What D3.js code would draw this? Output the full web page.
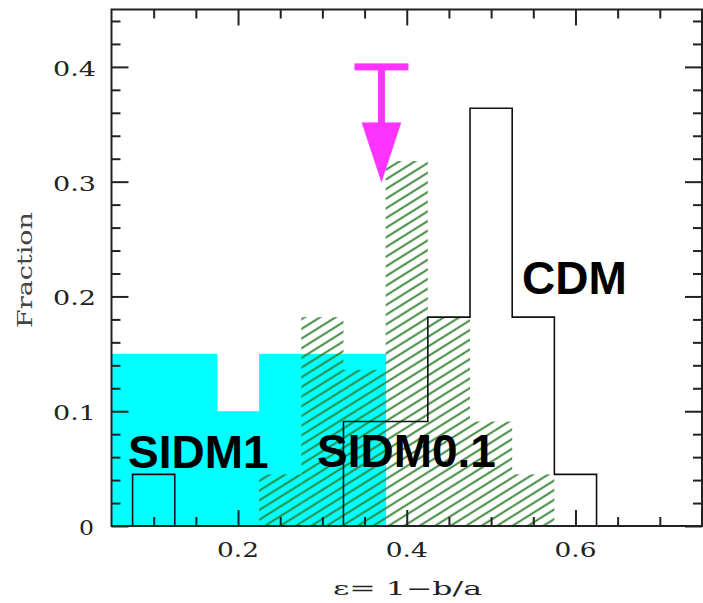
<!DOCTYPE html>
<html>
<head>
<meta charset="utf-8">
<script src="https://cdn.jsdelivr.net/npm/d3@7"></script>
<style>
  body { margin: 0; background: #fff; }
  svg { display: block; }
</style>
</head>
<body>
<svg id="chart" width="703" height="603"></svg>
<script>
// histogram bins (lower edges, width 0.05)
var binLo = [0.025, 0.075, 0.125, 0.175, 0.225, 0.275, 0.325, 0.375, 0.425, 0.475, 0.525, 0.575, 0.625, 0.675, 0.725],
    binWidth = 0.05;

var sidm1  = [0.15, 0.15, 0.15, 0.10, 0.15, 0.15, 0.15, 0, 0, 0, 0, 0, 0, 0, 0],
    sidm01 = [0, 0, 0, 0, 0.045, 0.182, 0.136, 0.318, 0.182, 0.091, 0.045, 0, 0, 0, 0],
    cdm    = [0, 0.045, 0, 0, 0, 0, 0.091, 0.091, 0.182, 0.364, 0.182, 0.045, 0, 0, 0];

var xMajor = [0.2, 0.4, 0.6],
    xMajorLabels = ['0.2', '0.4', '0.6'],
    xMinor = [0.1, 0.15, 0.25, 0.3, 0.35, 0.45, 0.5, 0.55, 0.65, 0.7],
    yMajor = [0, 0.1, 0.2, 0.3, 0.4],
    yMajorLabels = ['0', '0.1', '0.2', '0.3', '0.4'],
    yMinor = [0.02, 0.04, 0.06, 0.08, 0.12, 0.14, 0.16, 0.18, 0.22, 0.24, 0.26, 0.28, 0.32, 0.34, 0.36, 0.38, 0.42, 0.44];

// upper limit arrow
var arrowX = 0.37, arrowFrom = 0.4, arrowTo = 0.3;

var svg = d3.select('#chart'),
    L = 111.5, R = 702, T = 9.5, B = 526;

var x = d3.scaleLinear().domain([0.05, 0.75]).range([L, R]),
    y = d3.scaleLinear().domain([0, 0.45]).range([B, T]);

var defs = svg.append('defs');
defs.append('clipPath').attr('id', 'plotclip')
    .append('rect').attr('x', L).attr('y', T).attr('width', R - L).attr('height', B - T);

var pat = defs.append('pattern')
    .attr('id', 'hatch')
    .attr('patternUnits', 'userSpaceOnUse')
    .attr('width', 200).attr('height', 8.2)
    .attr('patternTransform', 'rotate(-32)');
pat.append('line')
    .attr('x1', 0).attr('x2', 200).attr('y1', 4.1).attr('y2', 4.1)
    .attr('stroke', '#2f7f2f').attr('stroke-width', 1.8);

var bins = binLo.map(function (lo, i) {
    return { lo: lo, hi: lo + binWidth, s1: sidm1[i], s01: sidm01[i], cdm: cdm[i] };
});

var plot = svg.append('g').attr('clip-path', 'url(#plotclip)');

// SIDM1 - solid cyan
plot.selectAll('rect.sidm1')
    .data(bins.filter(function (d) { return d.s1 > 0; }))
    .enter().append('rect')
    .attr('class', 'sidm1')
    .attr('x', function (d) { return x(d.lo); })
    .attr('width', function (d) { return x(d.hi) - x(d.lo) + 0.5; })
    .attr('y', function (d) { return y(d.s1); })
    .attr('height', function (d) { return B - y(d.s1); })
    .attr('fill', '#00ffff');

// SIDM0.1 - green hatching
plot.selectAll('rect.sidm01')
    .data(bins.filter(function (d) { return d.s01 > 0; }))
    .enter().append('rect')
    .attr('class', 'sidm01')
    .attr('x', function (d) { return x(d.lo); })
    .attr('width', function (d) { return x(d.hi) - x(d.lo); })
    .attr('y', function (d) { return y(d.s01); })
    .attr('height', function (d) { return B - y(d.s01); })
    .attr('fill', 'url(#hatch)');

// CDM - black step outline
var pts = [];
bins.forEach(function (d) {
    pts.push([d.lo, d.cdm]);
    pts.push([d.hi, d.cdm]);
});
plot.append('path')
    .datum(pts)
    .attr('d', d3.line().x(function (p) { return x(p[0]); }).y(function (p) { return y(p[1]); }))
    .attr('fill', 'none')
    .attr('stroke', '#111')
    .attr('stroke-width', 1.6);

// arrow (upper limit)
var ax = x(arrowX), ay0 = y(arrowFrom), ay1 = y(arrowTo);
var arrow = svg.append('g').attr('fill', '#ff33ff');
arrow.append('rect').attr('x', ax - 27).attr('y', ay0 - 3.5).attr('width', 54).attr('height', 7);
arrow.append('rect').attr('x', ax - 3.5).attr('y', ay0).attr('width', 7).attr('height', (ay1 - 59) - ay0 + 1);
arrow.append('path')
    .attr('d', 'M' + (ax - 19.5) + ',' + (ay1 - 59) + 'L' + (ax + 19.5) + ',' + (ay1 - 59) + 'L' + ax + ',' + ay1 + 'Z')
    .attr('stroke', '#ff33ff').attr('stroke-width', 0.5);

// axes: ticks inside on all four sides
function tickAxis(axisFn, scale, vals, size, tx, ty) {
    var g = svg.append('g')
        .attr('transform', 'translate(' + tx + ',' + ty + ')')
        .call(axisFn(scale).tickValues(vals).tickSize(size).tickFormat(''));
    g.select('.domain').remove();
    g.selectAll('line').attr('stroke', '#222').attr('stroke-width', 2);
    g.selectAll('text').remove();
    return g;
}
tickAxis(d3.axisBottom, x, xMajor, -16, 0, B);
tickAxis(d3.axisBottom, x, xMinor, -9, 0, B);
tickAxis(d3.axisTop, x, xMajor, -16, 0, T);
tickAxis(d3.axisTop, x, xMinor, -9, 0, T);
tickAxis(d3.axisLeft, y, yMajor, -17, L, 0);
tickAxis(d3.axisLeft, y, yMinor, -9, L, 0);
tickAxis(d3.axisRight, y, yMajor, -17, R, 0);
tickAxis(d3.axisRight, y, yMinor, -9, R, 0);

svg.append('rect')
    .attr('x', L).attr('y', T).attr('width', R - L).attr('height', B - T)
    .attr('fill', 'none').attr('stroke', '#222').attr('stroke-width', 2);

// tick labels (wide serif, like the original plotting font)
var serif = '"DejaVu Serif", "Liberation Serif", serif';
svg.selectAll('text.xlab')
    .data(xMajor)
    .enter().append('text')
    .attr('class', 'xlab')
    .attr('x', function (d) { return x(d); })
    .attr('y', 557)
    .attr('text-anchor', 'middle')
    .attr('textLength', 42).attr('lengthAdjust', 'spacingAndGlyphs')
    .style('font-family', serif).style('font-size', '20px').attr('fill', '#222')
    .text(function (d, i) { return xMajorLabels[i]; });

svg.selectAll('text.ylab')
    .data(yMajor)
    .enter().append('text')
    .attr('class', 'ylab')
    .attr('x', function (d) { return d === 0 ? 94 : 96; })
    .attr('y', function (d) { return y(d) + 9; })
    .attr('text-anchor', 'end')
    .attr('textLength', function (d, i) { return yMajorLabels[i].length === 1 ? 15 : 43; })
    .attr('lengthAdjust', 'spacingAndGlyphs')
    .style('font-family', serif).style('font-size', '20px').attr('fill', '#222')
    .text(function (d, i) { return yMajorLabels[i]; });

// axis titles
svg.append('text')
    .attr('x', 333).attr('y', 595)
    .attr('textLength', 149).attr('lengthAdjust', 'spacingAndGlyphs')
    .style('font-family', serif).style('font-size', '19px').attr('fill', '#222')
    .text('\u03b5= 1\u2212b/a');

svg.append('text')
    .attr('transform', 'translate(32,270) rotate(-90)')
    .attr('text-anchor', 'middle')
    .attr('textLength', 116).attr('lengthAdjust', 'spacingAndGlyphs')
    .style('font-family', serif).style('font-size', '21px').attr('fill', '#444')
    .text('Fraction');

// series labels
var labels = [
    { t: 'SIDM1', x: 128, y: 468 },
    { t: 'SIDM0.1', x: 317, y: 467 },
    { t: 'CDM', x: 522, y: 294 }
];
svg.selectAll('text.series')
    .data(labels)
    .enter().append('text')
    .attr('class', 'series')
    .attr('x', function (d) { return d.x; })
    .attr('y', function (d) { return d.y; })
    .style('font-family', '"Liberation Sans", Arial, sans-serif')
    .style('font-size', '46px').style('font-weight', 'bold')
    .attr('fill', '#000')
    .text(function (d) { return d.t; });
</script>
</body>
</html>
